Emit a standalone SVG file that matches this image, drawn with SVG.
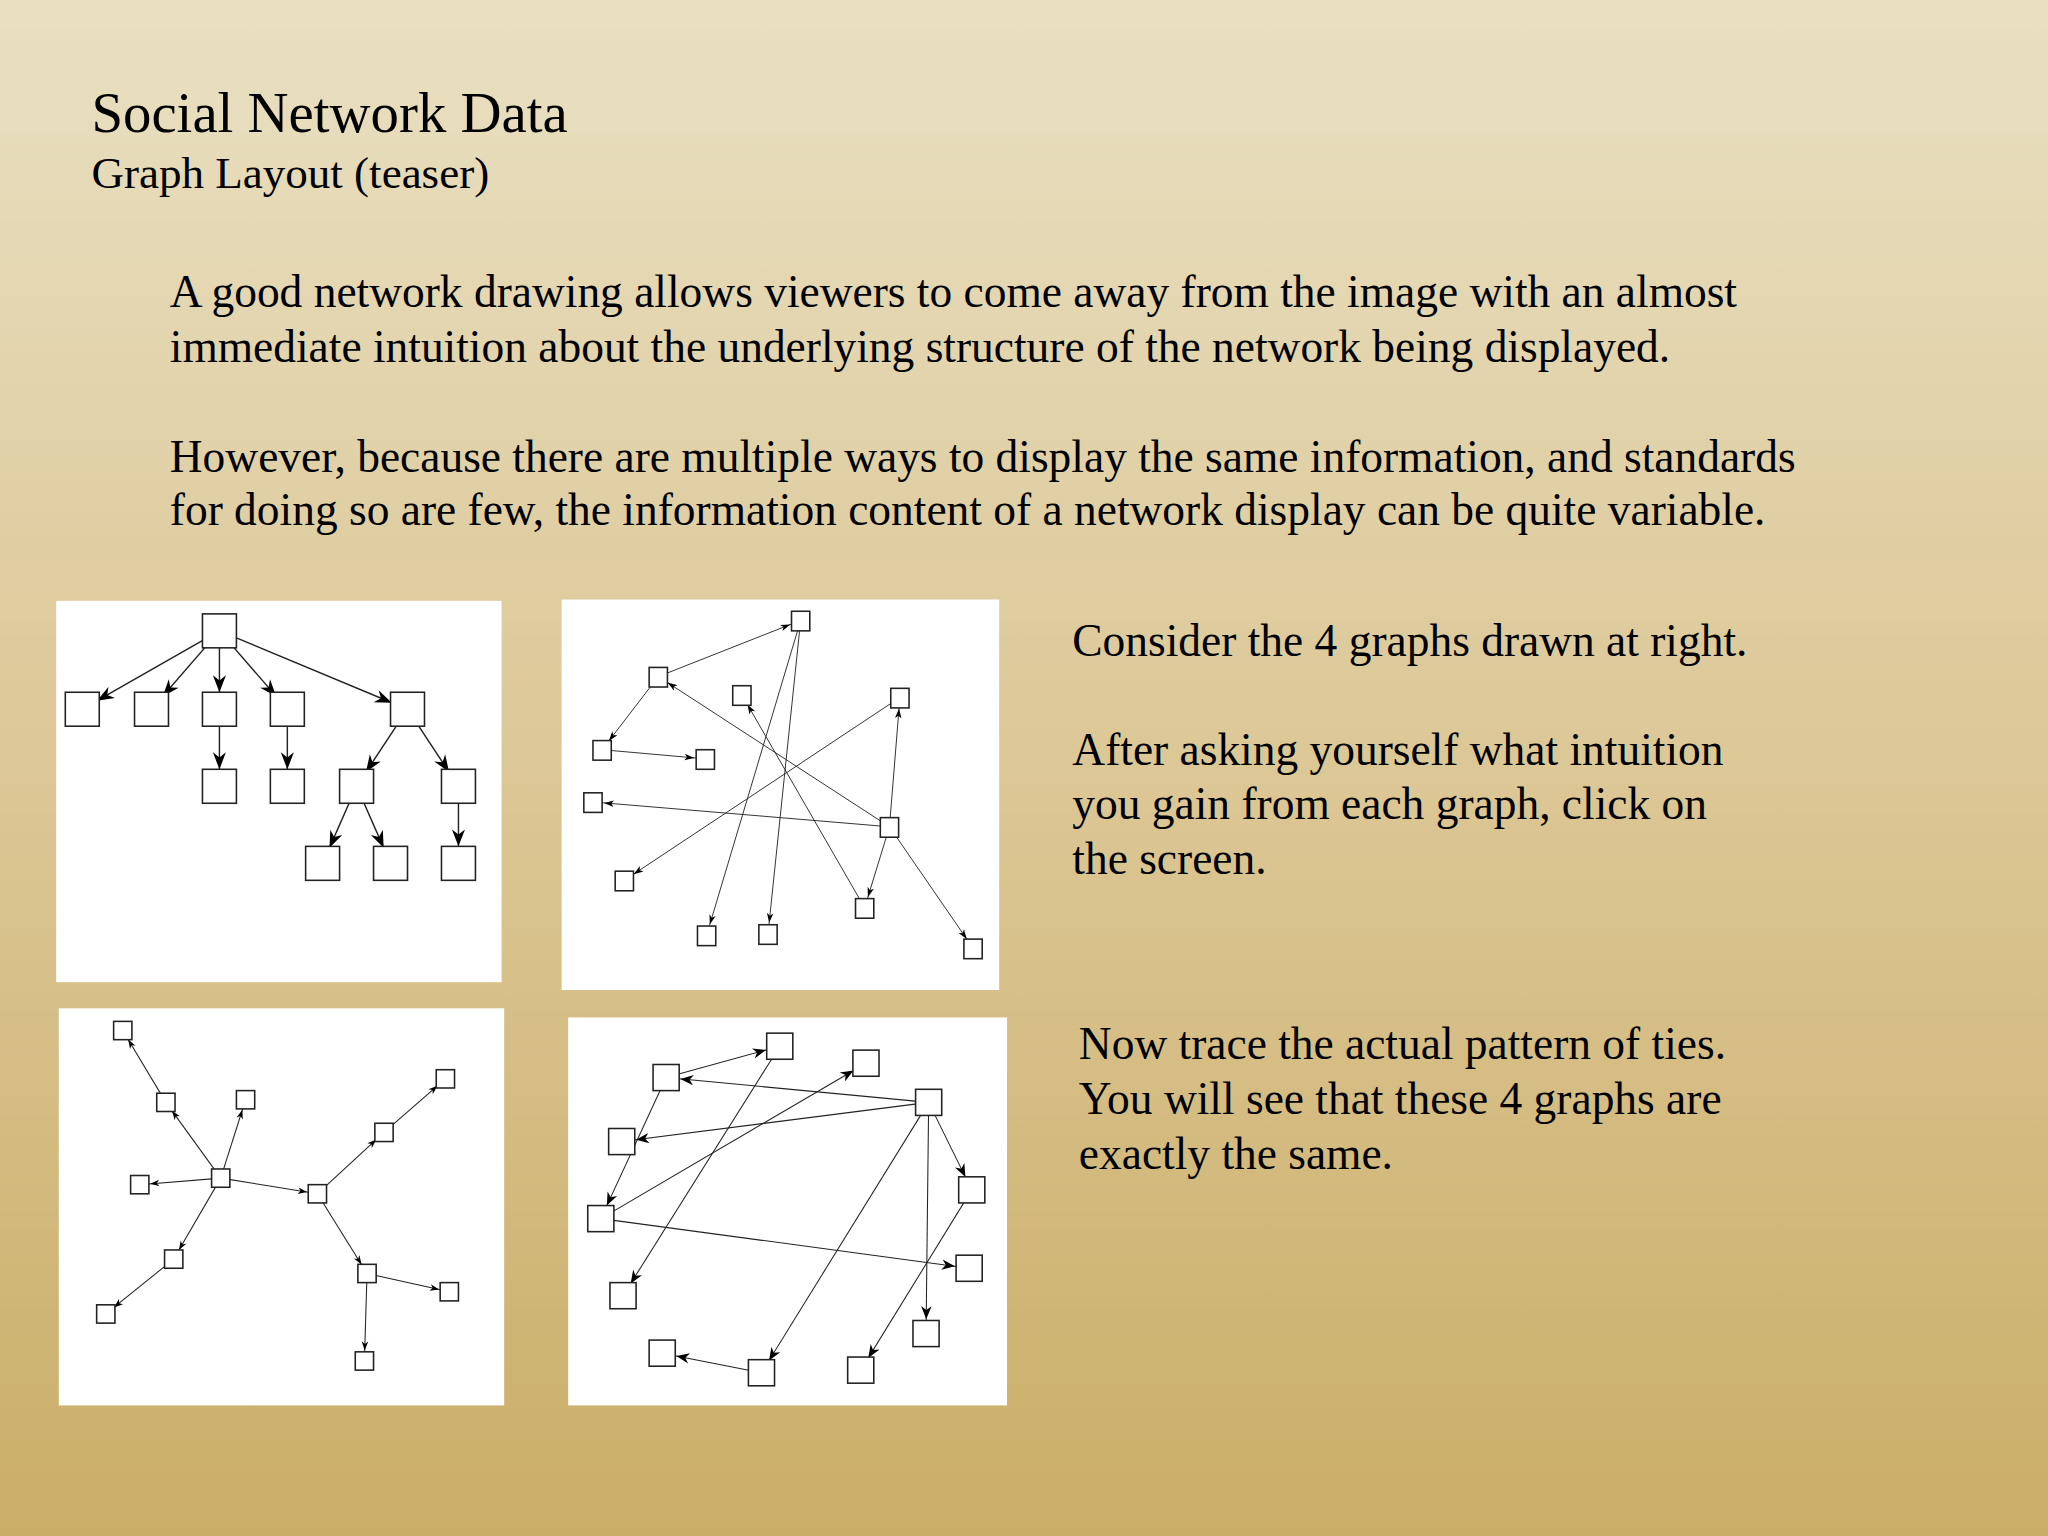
<svg xmlns="http://www.w3.org/2000/svg" width="2048" height="1536" viewBox="0 0 2048 1536">
<defs>
<linearGradient id="bg" x1="0" y1="0" x2="0" y2="1">
<stop offset="0" stop-color="#e9e0c2"/>
<stop offset="0.5" stop-color="#dcc796"/>
<stop offset="1" stop-color="#caae68"/>
</linearGradient>
<marker id="m1" markerUnits="userSpaceOnUse" viewBox="-30 -10 32 20" markerWidth="32" markerHeight="20" refX="0" refY="0" orient="auto" overflow="visible"><path d="M-13,0 L-26,-5 L-22,0 L-26,5 Z" fill="#000"/></marker>
<marker id="m2" markerUnits="userSpaceOnUse" viewBox="-30 -10 32 20" markerWidth="32" markerHeight="20" refX="0" refY="0" orient="auto" overflow="visible"><path d="M-8.5,0 L-16,-2.5 L-14,0 L-16,2.5 Z" fill="#000"/></marker>
<marker id="m3" markerUnits="userSpaceOnUse" viewBox="-30 -10 32 20" markerWidth="32" markerHeight="20" refX="0" refY="0" orient="auto" overflow="visible"><path d="M-8,0 L-15,-2.5 L-13,0 L-15,2.5 Z" fill="#000"/></marker>
<marker id="m4" markerUnits="userSpaceOnUse" viewBox="-30 -10 32 20" markerWidth="32" markerHeight="20" refX="0" refY="0" orient="auto" overflow="visible"><path d="M-11,0 L-21,-4 L-18,0 L-21,4 Z" fill="#000"/></marker>
</defs>
<style>
text{font-family:"Liberation Serif","Times New Roman",serif;fill:#000}
.b{font-size:34.8px}
.panel{fill:#fff}
.n{fill:#fff;stroke:#222;stroke-width:1.2}
.e{stroke:#222;fill:none}
.e1{stroke-width:1.1;marker-end:url(#m1)}
.e2{stroke-width:0.7;marker-end:url(#m2)}
.e3{stroke-width:0.8;marker-end:url(#m3)}
.e4{stroke-width:0.8;marker-end:url(#m4)}
</style>
<rect width="2048" height="1536" fill="url(#bg)"/>
<g transform="scale(1.30612)">
<g id="texts">
<text x="70" y="101" font-size="43.5">Social Network Data</text>
<text x="70" y="144" font-size="34.5">Graph Layout (teaser)</text>
<text class="b" x="130" y="235">A good network drawing allows viewers to come away from the image with an almost</text>
<text class="b" x="130" y="277">immediate intuition about the underlying structure of the network being displayed.</text>
<text class="b" x="130" y="361">However, because there are multiple ways to display the same information, and standards</text>
<text class="b" x="130" y="402">for doing so are few, the information content of a network display can be quite variable.</text>
<text class="b" x="821" y="502">Consider the 4 graphs drawn at right.</text>
<text class="b" x="821" y="586">After asking yourself what intuition</text>
<text class="b" x="821" y="627">you gain from each graph, click on</text>
<text class="b" x="821" y="669">the screen.</text>
<text class="b" x="826" y="811">Now trace the actual pattern of ties.</text>
<text class="b" x="826" y="853">You will see that these 4 graphs are</text>
<text class="b" x="826" y="895">exactly the same.</text>
</g>
<rect class="panel" x="43" y="460" width="341" height="292"/>
<rect class="panel" x="430" y="459" width="335" height="299"/>
<rect class="panel" x="45" y="772" width="341" height="304"/>
<rect class="panel" x="435" y="779" width="336" height="297"/>
<g id="connectors">
<line class="e e1" x1="168" y1="483" x2="63" y2="543"/>
<line class="e e1" x1="168" y1="483" x2="116" y2="543"/>
<line class="e e1" x1="168" y1="483" x2="168" y2="543"/>
<line class="e e1" x1="168" y1="483" x2="220" y2="543"/>
<line class="e e1" x1="168" y1="483" x2="312" y2="543"/>
<line class="e e1" x1="168" y1="543" x2="168" y2="602"/>
<line class="e e1" x1="220" y1="543" x2="220" y2="602"/>
<line class="e e1" x1="312" y1="543" x2="273" y2="602"/>
<line class="e e1" x1="312" y1="543" x2="351" y2="602"/>
<line class="e e1" x1="273" y1="602" x2="247" y2="661"/>
<line class="e e1" x1="273" y1="602" x2="299" y2="661"/>
<line class="e e1" x1="351" y1="602" x2="351" y2="661"/>

<line class="e e2" x1="504" y1="518" x2="613" y2="475"/>
<line class="e e2" x1="613" y1="475" x2="541" y2="716"/>
<line class="e e2" x1="613" y1="475" x2="588" y2="715"/>
<line class="e e2" x1="681" y1="633" x2="504" y2="518"/>
<line class="e e2" x1="504" y1="518" x2="461" y2="574"/>
<line class="e e2" x1="461" y1="574" x2="540" y2="581"/>
<line class="e e2" x1="662" y1="695" x2="568" y2="532"/>
<line class="e e2" x1="681" y1="633" x2="689" y2="534"/>
<line class="e e2" x1="689" y1="534" x2="478" y2="674"/>
<line class="e e2" x1="681" y1="633" x2="454" y2="614"/>
<line class="e e2" x1="681" y1="633" x2="662" y2="695"/>
<line class="e e2" x1="681" y1="633" x2="745" y2="726"/>

<line class="e e3" x1="127" y1="844" x2="94" y2="789"/>
<line class="e e3" x1="169" y1="902" x2="127" y2="844"/>
<line class="e e3" x1="169" y1="902" x2="188" y2="842"/>
<line class="e e3" x1="169" y1="902" x2="107" y2="907"/>
<line class="e e3" x1="169" y1="902" x2="243" y2="914"/>
<line class="e e3" x1="169" y1="902" x2="133" y2="964"/>
<line class="e e3" x1="133" y1="964" x2="81" y2="1006"/>
<line class="e e3" x1="243" y1="914" x2="294" y2="867"/>
<line class="e e3" x1="294" y1="867" x2="341" y2="826"/>
<line class="e e3" x1="243" y1="914" x2="281" y2="975"/>
<line class="e e3" x1="281" y1="975" x2="344" y2="989"/>
<line class="e e3" x1="281" y1="975" x2="279" y2="1042"/>

<line class="e e4" x1="510" y1="825" x2="597" y2="801"/>
<line class="e e4" x1="711" y1="844" x2="510" y2="825"/>
<line class="e e4" x1="711" y1="844" x2="476" y2="874"/>
<line class="e e4" x1="510" y1="825" x2="460" y2="933"/>
<line class="e e4" x1="460" y1="933" x2="663" y2="814"/>
<line class="e e4" x1="460" y1="933" x2="742" y2="971"/>
<line class="e e4" x1="597" y1="801" x2="477" y2="992"/>
<line class="e e4" x1="711" y1="844" x2="744" y2="911"/>
<line class="e e4" x1="711" y1="844" x2="709" y2="1021"/>
<line class="e e4" x1="711" y1="844" x2="583" y2="1051"/>
<line class="e e4" x1="744" y1="911" x2="659" y2="1049"/>
<line class="e e4" x1="583" y1="1051" x2="507" y2="1036"/>
</g>
<g id="graph1">
<rect class="n" x="155" y="470" width="26" height="26"/>
<rect class="n" x="50" y="530" width="26" height="26"/>
<rect class="n" x="103" y="530" width="26" height="26"/>
<rect class="n" x="155" y="530" width="26" height="26"/>
<rect class="n" x="207" y="530" width="26" height="26"/>
<rect class="n" x="299" y="530" width="26" height="26"/>
<rect class="n" x="155" y="589" width="26" height="26"/>
<rect class="n" x="207" y="589" width="26" height="26"/>
<rect class="n" x="260" y="589" width="26" height="26"/>
<rect class="n" x="338" y="589" width="26" height="26"/>
<rect class="n" x="234" y="648" width="26" height="26"/>
<rect class="n" x="286" y="648" width="26" height="26"/>
<rect class="n" x="338" y="648" width="26" height="26"/>
</g>
<g id="graph2">
<rect class="n" x="606" y="468" width="14" height="15"/>
<rect class="n" x="497" y="511" width="14" height="15"/>
<rect class="n" x="561" y="525" width="14" height="15"/>
<rect class="n" x="682" y="527" width="14" height="15"/>
<rect class="n" x="454" y="567" width="14" height="15"/>
<rect class="n" x="533" y="574" width="14" height="15"/>
<rect class="n" x="447" y="607" width="14" height="15"/>
<rect class="n" x="674" y="626" width="14" height="15"/>
<rect class="n" x="471" y="667" width="14" height="15"/>
<rect class="n" x="655" y="688" width="14" height="15"/>
<rect class="n" x="534" y="709" width="14" height="15"/>
<rect class="n" x="581" y="708" width="14" height="15"/>
<rect class="n" x="738" y="719" width="14" height="15"/>
</g>
<g id="graph3">
<rect class="n" x="87" y="782" width="14" height="14"/>
<rect class="n" x="120" y="837" width="14" height="14"/>
<rect class="n" x="181" y="835" width="14" height="14"/>
<rect class="n" x="334" y="819" width="14" height="14"/>
<rect class="n" x="287" y="860" width="14" height="14"/>
<rect class="n" x="100" y="900" width="14" height="14"/>
<rect class="n" x="162" y="895" width="14" height="14"/>
<rect class="n" x="236" y="907" width="14" height="14"/>
<rect class="n" x="126" y="957" width="14" height="14"/>
<rect class="n" x="74" y="999" width="14" height="14"/>
<rect class="n" x="274" y="968" width="14" height="14"/>
<rect class="n" x="337" y="982" width="14" height="14"/>
<rect class="n" x="272" y="1035" width="14" height="14"/>
</g>
<g id="graph4">
<rect class="n" x="587" y="791" width="20" height="20"/>
<rect class="n" x="653" y="804" width="20" height="20"/>
<rect class="n" x="500" y="815" width="20" height="20"/>
<rect class="n" x="701" y="834" width="20" height="20"/>
<rect class="n" x="466" y="864" width="20" height="20"/>
<rect class="n" x="450" y="923" width="20" height="20"/>
<rect class="n" x="734" y="901" width="20" height="20"/>
<rect class="n" x="732" y="961" width="20" height="20"/>
<rect class="n" x="467" y="982" width="20" height="20"/>
<rect class="n" x="699" y="1011" width="20" height="20"/>
<rect class="n" x="497" y="1026" width="20" height="20"/>
<rect class="n" x="573" y="1041" width="20" height="20"/>
<rect class="n" x="649" y="1039" width="20" height="20"/>
</g>
</g>
</svg>
